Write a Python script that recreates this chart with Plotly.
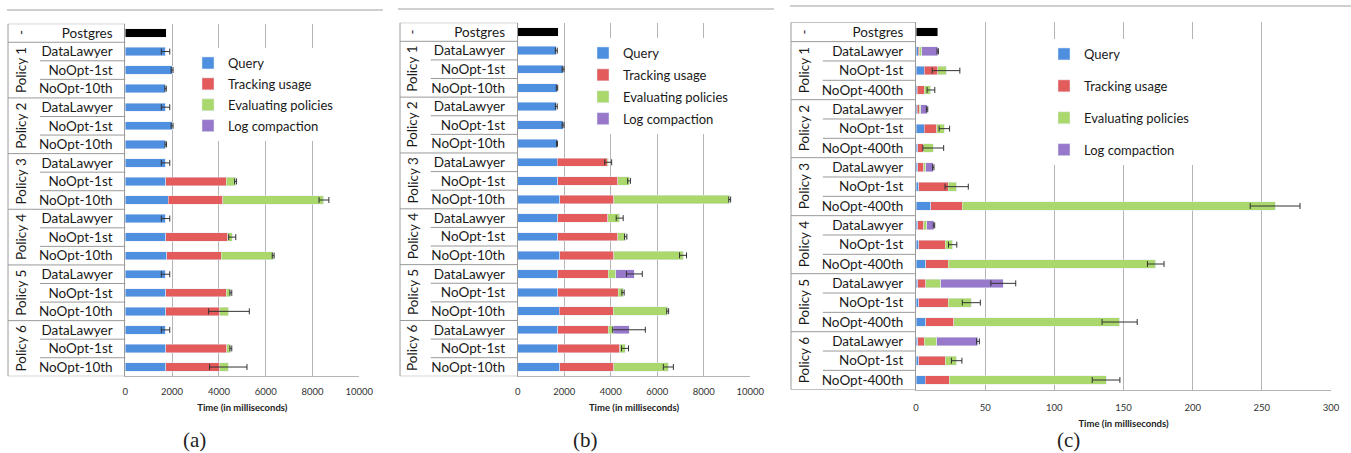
import plotly.graph_objects as go

W, H = 1351, 453

policies = ["Policy 1", "Policy 2", "Policy 3", "Policy 4", "Policy 5", "Policy 6"]
items_ab = ["DataLawyer", "NoOpt-1st", "NoOpt-10th"]
items_c = ["DataLawyer", "NoOpt-1st", "NoOpt-400th"]
series_names = ["Query", "Tracking usage", "Evaluating policies", "Log compaction"]
series_colors = ["#4E8FE0", "#E35B5B", "#AAD86C", "#9878CA"]

# ---- panel (a) ----
postgres_a = 1750
query_a = [1720, 2000, 1720, 1720, 2000, 1730, 1720, 1720, 1840, 1720, 1720, 1780, 1720, 1720, 1720, 1720, 1720, 1720]
track_a = [0, 0, 0, 0, 0, 0, 0, 2590, 2330, 0, 2650, 2310, 0, 2590, 2310, 0, 2620, 2310]
eval_a = [0, 0, 0, 0, 0, 0, 0, 400, 4320, 0, 200, 2230, 0, 200, 400, 0, 170, 370]
log_a = [0] * 18
err_a = [180, 40, 30, 180, 40, 30, 180, 40, 210, 180, 150, 40, 180, 40, 870, 180, 40, 800]

# ---- panel (b) ----
postgres_b = 1750
query_b = [1660, 1950, 1690, 1660, 1950, 1690, 1690, 1720, 1806, 1720, 1720, 1806, 1720, 1720, 1777, 1720, 1720, 1806]
track_b = [0, 0, 0, 0, 0, 0, 2150, 2580, 2321, 2149, 2580, 2321, 2178, 2608, 2321, 2178, 2665, 2321]
eval_b = [0, 0, 0, 0, 0, 0, 50, 486, 4987, 516, 343, 2981, 315, 200, 2351, 200, 229, 2350]
log_b = [0, 0, 0, 0, 0, 0, 0, 0, 0, 0, 0, 0, 803, 0, 0, 688, 0, 0]
err_b = [40, 40, 30, 40, 40, 20, 150, 60, 40, 150, 50, 150, 340, 50, 40, 700, 150, 215]

# ---- panel (c) ----
postgres_c = 15.7
query_c = [1.5, 6.0, 1.0, 1.0, 6.0, 1.2, 1.2, 1.9, 10.8, 1.2, 1.9, 7.2, 1.2, 1.9, 7.2, 1.2, 1.9, 6.7]
track_c = [1.0, 9.6, 5.0, 1.5, 9.0, 4.1, 4.3, 21.5, 22.5, 4.3, 19.3, 16.2, 6.0, 21.5, 20.0, 4.8, 19.3, 17.2]
eval_c = [1.5, 6.1, 4.8, 1.0, 5.5, 7.2, 1.7, 6.0, 226.3, 2.2, 5.3, 149.9, 10.6, 16.6, 120.0, 9.0, 8.2, 113.5]
log_c = [11.7, 0, 0, 4.5, 0, 0, 5.3, 0, 0, 5.3, 0, 0, 45.3, 0, 0, 29.8, 0, 0]
err_c = [0.5, 10, 2.8, 0.5, 3.8, 7.5, 0.5, 8.4, 18, 0.5, 3, 6, 9, 6.5, 12.7, 1, 3.8, 10]

panels = [
    dict(items=items_ab, pg=postgres_a, series=[query_a, track_a, eval_a, log_a], err=err_a,
         xr=[0, 10000], dtick=2000, sfx="", legend="legend", tag="(a)",
         px=dict(axis0=125.3, axis1=359.3, left=8, gcol=40, gc=21, top=23.7, bot=376.3,
                 frame0=7, frame1=383, framey=10, tagx=195, tickoff=6)),
    dict(items=items_ab, pg=postgres_b, series=[query_b, track_b, eval_b, log_b], err=err_b,
         xr=[0, 10000], dtick=2000, sfx="2", legend="legend2", tag="(b)",
         px=dict(axis0=517.7, axis1=750.3, left=400, gcol=430.7, gc=412.5, top=22.7, bot=376.3,
                 frame0=398, frame1=774, framey=9, tagx=585, tickoff=6)),
    dict(items=items_c, pg=postgres_c, series=[query_c, track_c, eval_c, log_c], err=err_c,
         xr=[0, 300], dtick=50, sfx="3", legend="legend3", tag="(c)",
         px=dict(axis0=916, axis1=1331, left=791, gcol=822.8, gc=803.5, top=22.3, bot=389.7,
                 frame0=790, frame1=1351, framey=6, tagx=1068, tickoff=9)),
]

legend_pos = [(188, 48, 1), (583, 38, 2), (1044, 39, 12)]

FONT = "Lato"
LINE = "#9a9a9a"
fig = go.Figure()
shapes, annotations = [], []
layout = {}

for k, p in enumerate(panels):
    g = p["px"]
    xa = "x" + p["sfx"]
    ya = "y" + p["sfx"]
    labels = ["Postgres"] + p["items"] * len(policies)
    n = len(labels)
    rows = list(range(1, n))

    fig.add_trace(go.Bar(x=[p["pg"]], y=[0], orientation="h", marker_color="black",
                         showlegend=False, xaxis=xa, yaxis=ya, hoverinfo="skip"))
    for name, vals, col in zip(series_names, p["series"], series_colors):
        fig.add_trace(go.Bar(x=vals, y=rows, orientation="h", name=name, marker_color=col,
                             legend=p["legend"], legendgroup=name + p["sfx"],
                             xaxis=xa, yaxis=ya))
    totals = [sum(v) for v in zip(*p["series"])]
    fig.add_trace(go.Scatter(x=totals, y=rows, mode="markers",
                             marker=dict(size=1, color="rgba(0,0,0,0)"),
                             error_x=dict(type="data", array=p["err"], color="#333333",
                                          thickness=1, width=3),
                             showlegend=False, xaxis=xa, yaxis=ya, hoverinfo="skip"))

    xkey = "xaxis" + p["sfx"]
    ykey = "yaxis" + p["sfx"]
    layout[xkey] = dict(domain=[g["axis0"] / W, g["axis1"] / W], range=p["xr"], dtick=p["dtick"],
                        tick0=0, tickformat="d", anchor=ya, automargin=False,
                        showgrid=True, gridcolor="#b4b4b4", gridwidth=1,
                        zeroline=False, showline=True, linecolor="#b4b4b4", linewidth=1,
                        ticks="", ticklabelstandoff=g["tickoff"],
                        tickfont=dict(family=FONT, size=9.5, color="#333"),
                        title=dict(text="<b>Time (in milliseconds)</b>", standoff=8,
                                   font=dict(family=FONT, size=9.5, color="#222")))
    layout[ykey] = dict(domain=[1 - g["bot"] / H, 1 - g["top"] / H], range=[n - 0.5, -0.5],
                        anchor=xa, tickmode="array", tickvals=list(range(n)), ticktext=labels,
                        ticks="", ticklabelstandoff=9, showgrid=False, zeroline=False,
                        automargin=False,
                        showline=True, linecolor=LINE, linewidth=1,
                        tickfont=dict(family=FONT, size=13.5, color="#1a1a1a"))

    lx, ly, gap = legend_pos[k]
    layout[p["legend"]] = dict(x=lx / W, y=1 - ly / H, xref="paper", yref="paper",
                               xanchor="left", yanchor="top", bgcolor="white",
                               traceorder="grouped", tracegroupgap=gap,
                               font=dict(family=FONT, size=13, color="#1a1a1a"))

    # label table lines
    xl, xg, x0 = g["left"] / W, g["gcol"] / W, g["axis0"] / W
    bounds = [-0.5, 0.5]
    for i in range(len(policies)):
        start = 1 + i * len(p["items"])
        for j in range(1, len(p["items"])):
            shapes.append(dict(type="line", xref="paper", yref=ya, x0=xg, x1=x0,
                               y0=start + j - 0.5, y1=start + j - 0.5,
                               line=dict(color=LINE, width=1)))
        bounds.append(start + len(p["items"]) - 0.5)
    for b in bounds:
        shapes.append(dict(type="line", xref="paper", yref=ya, x0=xl, x1=x0, y0=b, y1=b,
                           line=dict(color=LINE, width=1)))
    shapes.append(dict(type="line", xref="paper", yref=ya, x0=xl, x1=xl, y0=-0.5, y1=n - 0.5,
                       line=dict(color=LINE, width=1)))
    # frame line at top
    shapes.append(dict(type="line", xref="paper", yref="paper", x0=g["frame0"] / W,
                       x1=g["frame1"] / W, y0=1 - g["framey"] / H, y1=1 - g["framey"] / H,
                       line=dict(color="#a0a0a0", width=1)))
    # group labels
    annotations.append(dict(text="-", x=g["gc"] / W, y=0, xref="paper", yref=ya,
                            xanchor="center", yanchor="middle",
                            textangle=-90, showarrow=False,
                            font=dict(family=FONT, size=13.5, color="#1a1a1a")))
    for i, pol in enumerate(policies):
        start = 1 + i * len(p["items"])
        annotations.append(dict(text=pol, x=g["gc"] / W, y=start + (len(p["items"]) - 1) / 2,
                                xref="paper", yref=ya, xanchor="center", yanchor="middle",
                                textangle=-90, showarrow=False,
                                font=dict(family=FONT, size=13.5, color="#1a1a1a")))
    annotations.append(dict(text=p["tag"], x=g["tagx"] / W, y=1 - 440 / H, xref="paper",
                            yref="paper", xanchor="center", yanchor="middle", showarrow=False,
                            font=dict(family="Liberation Serif", size=21, color="#222")))

fig.update_layout(**layout)
fig.update_layout(width=W, height=H, margin=dict(l=0, r=0, t=0, b=0, autoexpand=False),
                  paper_bgcolor="white", plot_bgcolor="white", barmode="stack", bargap=0.55,
                  shapes=shapes, annotations=annotations, showlegend=True)
fig.write_html("out.html", config={"displayModeBar": False},
               post_script="document.body.style.margin='0';document.body.style.overflow='hidden';")
